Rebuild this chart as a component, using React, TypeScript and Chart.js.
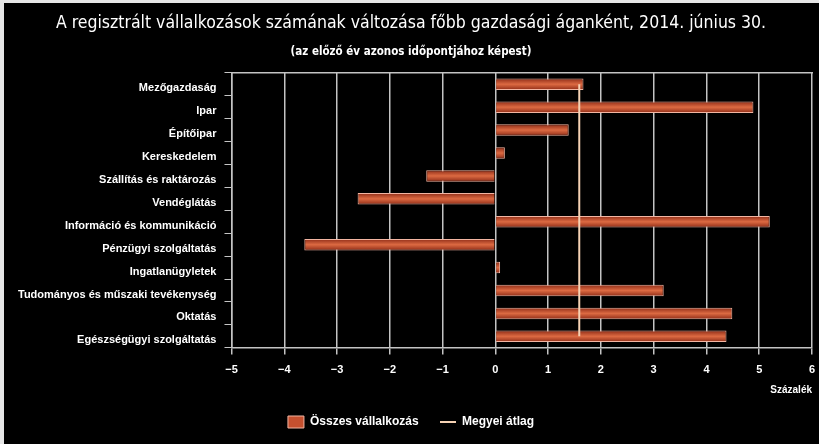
import React, { useEffect, useRef } from "react";
import { Chart, registerables } from "chart.js";

Chart.register(...registerables);

const categories = [
  "Mezőgazdaság",
  "Ipar",
  "Építőipar",
  "Kereskedelem",
  "Szállítás és raktározás",
  "Vendéglátás",
  "Információ és kommunikáció",
  "Pénzügyi szolgáltatás",
  "Ingatlanügyletek",
  "Tudományos és műszaki tevékenység",
  "Oktatás",
  "Egészségügyi szolgáltatás",
];

const osszesValues = [1.67, 4.89, 1.39, 0.18, -1.31, -2.61, 5.2, -3.62, 0.09, 3.19, 4.49, 4.38];
const megyeiAtlag = [1.59, 1.59, 1.59, 1.59, 1.59, 1.59, 1.59, 1.59, 1.59, 1.59, 1.59, 1.59];

const titleText = "A regisztrált vállalkozások számának változása főbb gazdasági áganként, 2014. június 30.";
const subtitleText = "(az előző év azonos időpontjához képest)";
const xTitle = "Százalék";
const seriesNames = ["Összes vállalkozás", "Megyei átlag"];

const FONT = "'Liberation Sans', Arial, sans-serif";
const NARROW = "'Liberation Sans Narrow', 'DejaVu Sans Condensed', 'Liberation Sans', sans-serif";

export default function App() {
  const ref = useRef<HTMLCanvasElement>(null);

  useEffect(() => {
    document.body.style.margin = "0";
    document.body.style.overflow = "hidden";
    if (!ref.current) return;
    const bgPlugin = {
      id: "bg",
      beforeDraw(chart: any) {
        const c = chart.ctx;
        c.save();
        c.fillStyle = "#000000";
        c.fillRect(0, 0, chart.width, chart.height);
        c.restore();
      },
    };
    const barFill = (ctx: any) => {
      const chart = ctx.chart;
      const ys = chart.scales && chart.scales.y;
      if (!ys || ctx.type !== "data" || !ys.height) return "#c5502f";
      const yc = ys.getPixelForValue(ctx.dataIndex);
      const half = (ys.height / categories.length) * 0.5 / 2;
      const g = chart.ctx.createLinearGradient(0, yc - half, 0, yc + half);
      g.addColorStop(0, "#8f2c17");
      g.addColorStop(0.5, "#dc6a42");
      g.addColorStop(1, "#8f2c17");
      return g;
    };
    const chart = new Chart(ref.current, {
      type: "bar",
      data: {
        labels: categories,
        datasets: [
          {
            type: "bar",
            label: seriesNames[0],
            data: osszesValues,
            backgroundColor: barFill,
            borderColor: "#f2b5a2",
            borderWidth: 1,
            barPercentage: 0.5,
            categoryPercentage: 1,
            order: 2,
          } as any,
          {
            type: "line",
            label: seriesNames[1],
            data: megyeiAtlag,
            borderColor: "#f6d2b4",
            borderWidth: 2,
            pointRadius: 0,
            indexAxis: "y",
            order: 1,
          } as any,
        ],
      },
      options: {
        indexAxis: "y",
        responsive: false,
        animation: false,
        layout: { padding: { left: 6, right: 7, top: 4, bottom: 6 } },
        scales: {
          x: {
            type: "linear",
            min: -5,
            max: 6,
            ticks: { stepSize: 1, color: "#ffffff", font: { family: FONT, size: 11, weight: "bold" }, padding: 0,
              callback: (v: any) => (Number(v) < 0 ? "\u2212" + Math.abs(Number(v)) : String(v)) },
            grid: { color: "#c4c4c4", lineWidth: 1.5, tickLength: 16, tickBorderDash: [6, 40], drawTicks: true },
            border: { color: "#c4c4c4", width: 1.5 },
            title: { display: true, text: xTitle, align: "end", color: "#ffffff", font: { family: FONT, size: 10, weight: "bold" }, padding: { top: 7, bottom: 2 } },
          },
          x2: {
            type: "linear",
            position: "top",
            min: -5,
            max: 6,
            ticks: { display: false },
            grid: { drawOnChartArea: false, drawTicks: false },
            border: { color: "#c4c4c4", width: 1.5 },
          },
          y: {
            ticks: { color: "#ffffff", font: { family: FONT, size: 11, weight: "bold" }, padding: 8, labelOffset: 4 },
            grid: { drawOnChartArea: false, drawTicks: true, tickLength: 7, color: "#c4c4c4", offset: true },
            border: { color: "#c4c4c4", width: 1.5 },
          },
        } as any,
        plugins: {
          title: { display: true, text: titleText, color: "#ffffff", font: { family: NARROW, size: 17.5, weight: "normal" }, padding: { top: 6, bottom: 6 } },
          subtitle: { display: true, text: subtitleText, color: "#ffffff", font: { family: NARROW, size: 11.5, weight: "bold" }, padding: { top: 5, bottom: 14 } },
          legend: {
            position: "bottom",
            labels: {
              color: "#ffffff",
              font: { family: FONT, size: 12, weight: "bold" },
              padding: 18,
              generateLabels: () => [
                { text: seriesNames[0] + " ", fillStyle: "#c5502f", strokeStyle: "#f2b5a2", lineWidth: 1, pointStyle: "rect", datasetIndex: 0, fontColor: "#ffffff" },
                { text: seriesNames[1], fillStyle: "#f6d2b4", strokeStyle: "#f6d2b4", lineWidth: 2, pointStyle: "line", datasetIndex: 1, fontColor: "#ffffff" },
              ] as any,
              usePointStyle: true,
              pointStyleWidth: 16,
              boxHeight: 12,
            },
          },
          tooltip: { enabled: false },
        },
      } as any,
      plugins: [bgPlugin],
    });
    return () => chart.destroy();
  }, []);

  return (
    <div style={{ width: 819, height: 444, background: "#e6e6e6", boxSizing: "border-box", paddingTop: 3, paddingLeft: 4, overflow: "hidden" }}>
      <canvas ref={ref} width={815} height={441} style={{ display: "block" }} />
    </div>
  );
}
